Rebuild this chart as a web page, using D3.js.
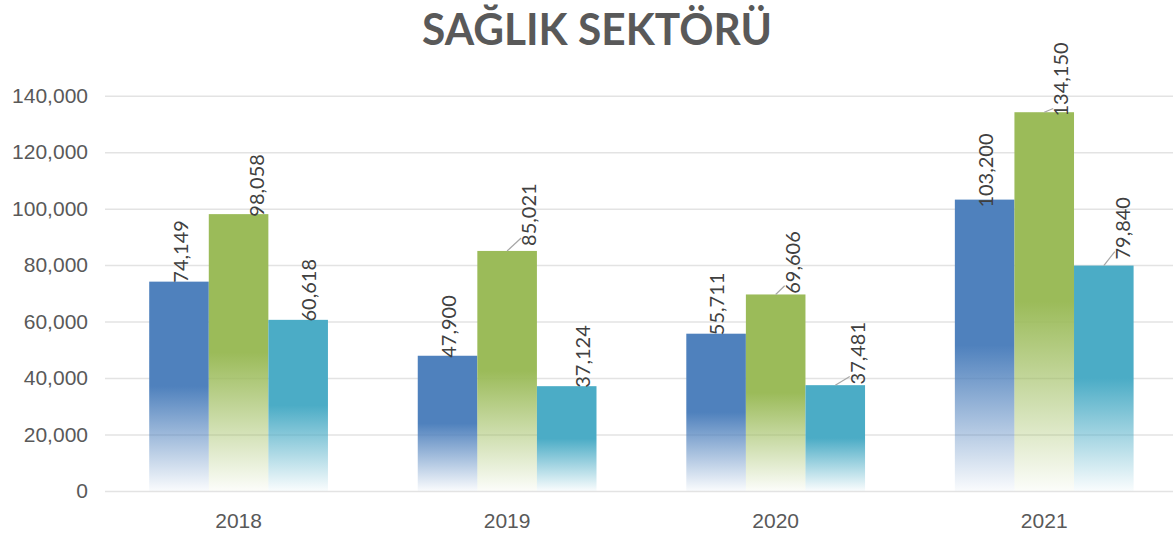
<!DOCTYPE html>
<html lang="tr">
  <head>
    <meta charset="utf-8">
    <title>Sağlık Sektörü</title>
    <style>
      html, body { margin: 0; padding: 0; background: #fff; }
      svg { display: block; font-family: Lato, "Open Sans", sans-serif; }
    </style>
  </head>
  <body>
    <svg class="chart"></svg>
    <script src="https://cdn.jsdelivr.net/npm/d3@7"></script>
    <script>
    // chart values
    const years = ["2018", "2019", "2020", "2021"];
    const seriesBlue = [74149, 47900, 55711, 103200];
    const seriesGreen = [98058, 85021, 69606, 134150];
    const seriesTeal = [60618, 37124, 37481, 79840];
    const yTicks = [0, 20000, 40000, 60000, 80000, 100000, 120000, 140000];
    const title = "SAĞLIK SEKTÖRÜ";

    const width = 1173, height = 537;
    const textColor = "#595959";
    const svg = d3.select(".chart").attr("width", width).attr("height", height);

    const series = [
      {key: "blue", color: "#4f81bd", values: seriesBlue,
       // label nudges: dx from bar centre, dy of label start below bar top, leader line
       nudge: [[2, 1, 0], [1, 2, 0], [1, 1.5, 0], [1.5, 8, 0]]},
      {key: "green", color: "#9bbb59", values: seriesGreen,
       nudge: [[18, 2.5, 0], [22, -5, 1], [17, -0.7, 1], [17, 4.3, 1]]},
      {key: "teal", color: "#4bacc6", values: seriesTeal,
       nudge: [[10.5, 1.7, 0], [16, 1.6, 0], [22.5, -0.7, 1], [19, -6, 1]]}
    ];

    const x0 = d3.scaleBand().domain(years).range([104.3, 1178.5])
      .paddingInner(0.3344).paddingOuter(0.1672);
    const x1 = d3.scaleBand().domain(series.map(s => s.key)).range([0, x0.bandwidth()]);
    const y = d3.scaleLinear().domain([0, 140000]).range([491, 95.7]);
    const fmt = d3.format(",");

    // gradients: solid top half, fading to white at the bottom
    const defs = svg.append("defs");
    series.forEach(function(s) {
      const g = defs.append("linearGradient").attr("id", "grad-" + s.key)
        .attr("x1", 0).attr("y1", 0).attr("x2", 0).attr("y2", 1);
      g.append("stop").attr("offset", 0).attr("stop-color", s.color);
      g.append("stop").attr("offset", 0.5).attr("stop-color", s.color);
      g.append("stop").attr("offset", 1).attr("stop-color", s.color).attr("stop-opacity", 0.03);
    });

    // title
    svg.append("text")
      .attr("x", 597).attr("y", 45)
      .attr("text-anchor", "middle")
      .attr("textLength", 350).attr("lengthAdjust", "spacingAndGlyphs")
      .style("font-size", "44px").style("font-weight", 700)
      .style("fill", textColor)
      .text(title);

    // grid
    const yAxis = d3.axisLeft(y).tickValues(yTicks).tickFormat(fmt)
      .tickSize(-(width - 105)).tickPadding(17);
    const gy = svg.append("g").attr("transform", "translate(105,0)").call(yAxis);
    gy.select(".domain").remove();
    gy.selectAll(".tick line").attr("stroke", "#e3e3e3").attr("stroke-width", 1.5);
    gy.selectAll(".tick text").style("font-size", "21px").style("fill", textColor)
      .attr("font-family", null);

    const xAxis = d3.axisBottom(x0).tickSize(0).tickPadding(22);
    const gx = svg.append("g").attr("transform", "translate(0,491)").call(xAxis);
    gx.select(".domain").remove();
    gx.selectAll(".tick text").style("font-size", "21px").style("fill", textColor)
      .attr("font-family", null);

    // bars
    const groups = svg.append("g").selectAll("g").data(years).join("g")
      .attr("transform", d => "translate(" + x0(d) + ",0)");

    groups.selectAll("rect")
      .data((d, i) => series.map(s => ({s: s, v: s.values[i]})))
      .join("rect")
      .attr("x", d => x1(d.s.key))
      .attr("y", d => y(d.v))
      .attr("width", x1.bandwidth())
      .attr("height", d => y(0) - y(d.v))
      .attr("fill", d => "url(#grad-" + d.s.key + ")");

    // labels
    const labels = [];
    years.forEach(function(yr, i) {
      series.forEach(function(s) {
        const n = s.nudge[i];
        const cx = x0(yr) + x1(s.key) + x1.bandwidth() / 2;
        const top = y(s.values[i]);
        labels.push({cx: cx, top: top, lx: cx + n[0], ly: top + n[1], leader: n[2], v: s.values[i]});
      });
    });

    svg.append("g").selectAll("line").data(labels.filter(d => d.leader)).join("line")
      .attr("x1", d => d.cx).attr("y1", d => d.top)
      .attr("x2", d => d.lx - 8).attr("y2", d => d.ly - 8)
      .attr("stroke", "#a6a6a6").attr("stroke-width", 1.2);

    svg.append("g").selectAll("text").data(labels).join("text")
      .attr("transform", d => "translate(" + d.lx + "," + d.ly + ") rotate(-90)")
      .attr("dy", "0.35em")
      .style("font-size", "20px").style("fill", "#404040")
      .text(d => fmt(d.v));
    </script>
  </body>
</html>
